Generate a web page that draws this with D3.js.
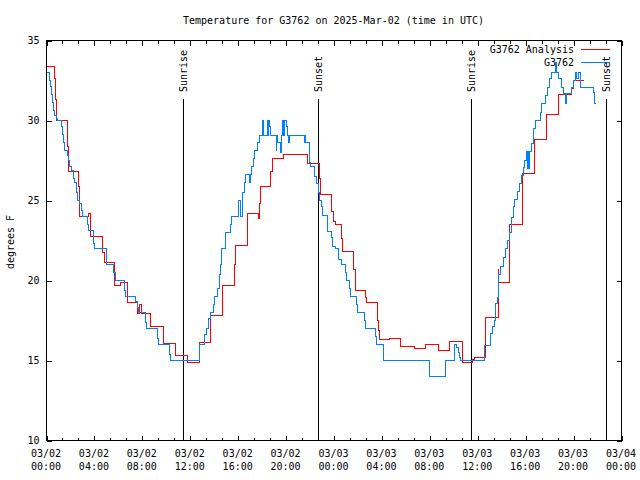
<!DOCTYPE html>
<html><head><meta charset="utf-8">
<script src="https://cdn.jsdelivr.net/npm/d3@7"></script>
<style>
body{margin:0;background:#fff}
svg{display:block}
text{font-family:"DejaVu Sans Mono",monospace;font-size:10px;fill:#000}
</style>
</head><body>
<svg id="chart" width="640" height="480"></svg>
<script>
// ---- data (hours since 2025-03-02 00:00 UTC, degrees F) ----
const titleText = "Temperature for G3762 on 2025-Mar-02 (time in UTC)";
const yLabelText = "degrees F";
const seriesNames = ["G3762 Analysis", "G3762"];
const seriesColors = ["#ff0000", "#0080ff"];
const yTickValues = [10, 15, 20, 25, 30, 35];
const xTickHours = [0, 4, 8, 12, 16, 20, 24, 28, 32, 36, 40, 44, 48];
const xTickDates = ["03/02","03/02","03/02","03/02","03/02","03/02","03/03","03/03","03/03","03/03","03/03","03/03","03/04"];
const xTickTimes = ["00:00","04:00","08:00","12:00","16:00","20:00","00:00","04:00","08:00","12:00","16:00","20:00","00:00"];
const sunLabels = ["Sunrise", "Sunset", "Sunrise", "Sunset"];
const sunHours = [11.47, 22.72, 35.5, 46.78];

const analysisSeries = [[0,33.4],[0.7,32.6],[0.75,31.3],[0.85,30.0],[1.73,28.4],[1.8,26.8],[2.7,25.9],[2.75,24.0],[3.54,24.2],[3.68,22.75],[4.71,21.75],[4.8,21.1],[5.69,19.7],[6.2,19.9],[6.75,18.6],[7.6,17.95],[7.78,18.5],[7.9,17.95],[8.7,17.1],[9.77,16.04],[10.74,15.3],[11.77,14.85],[12.8,16.1],[13.72,17.8],[14.73,19.7],[15.67,21.0],[15.8,22.2],[16.79,24.17],[17.68,23.86],[17.78,24.8],[17.85,25.9],[18.74,26.8],[18.88,27.6],[19.78,27.9],[21.81,27.3],[22.79,26.4],[22.88,25.4],[23.82,24.3],[23.96,23.7],[24.1,23.5],[24.66,22.6],[24.74,21.8],[25.66,20.7],[25.77,19.4],[26.64,18.96],[26.75,18.6],[27.62,17.5],[27.7,16.9],[27.76,16.3],[28.65,16.4],[29.57,15.87],[30.74,15.73],[31.66,16.0],[32.69,15.6],[33.67,16.2],[34.7,14.9],[35.54,15.04],[35.76,15.2],[36.65,17.67],[37.71,20.7],[37.77,19.9],[38.69,23.5],[39.72,26.7],[40.73,28.8],[41.76,30.4],[42.73,31.6],[43.85,32.0],[43.99,32.5],[44.83,32.5]];

const observedSeries = [[0,33.0],[0.25,32.5],[0.33,32.1],[0.42,31.6],[0.53,31.1],[0.61,30.6],[0.7,30.3],[0.84,30.1],[0.95,30.0],[1.23,29.6],[1.31,29.1],[1.39,28.6],[1.5,28.1],[1.73,27.8],[1.87,27.5],[1.95,27.1],[2.06,26.9],[2.23,26.4],[2.34,26.1],[2.51,25.5],[2.62,25.0],[2.79,24.8],[2.9,24.4],[2.98,24.0],[3.4,23.5],[3.54,23.1],[3.91,22.3],[4.02,22.0],[5.0,21.0],[5.63,20.5],[5.77,20.0],[6.47,19.4],[6.61,19.0],[7.45,18.7],[7.59,18.3],[7.67,18.0],[8.23,17.4],[8.34,17.0],[9.26,16.4],[9.35,16.0],[10.24,15.4],[10.38,15.0],[12.75,16.0],[13.2,16.6],[13.35,17.0],[13.55,17.6],[13.7,18.0],[13.9,18.5],[14.05,19.0],[14.25,19.5],[14.42,20.4],[14.5,21.0],[14.64,22.0],[14.98,23.0],[15.4,23.5],[15.48,24.0],[16.0,25.0],[16.23,24.0],[16.32,25.0],[16.37,25.5],[16.51,26.1],[16.65,26.6],[16.93,26.1],[17.0,26.6],[17.13,27.1],[17.3,27.6],[17.4,28.1],[17.63,28.6],[17.77,29.06],[18.05,30.0],[18.13,29.06],[18.41,30.0],[18.5,29.06],[18.55,30.0],[18.6,29.6],[18.69,29.06],[19.16,28.1],[19.22,29.06],[19.3,28.6],[19.52,28.0],[19.58,29.06],[19.72,30.0],[19.78,29.06],[19.85,30.0],[20.0,29.6],[20.14,29.06],[20.2,28.6],[20.28,29.06],[21.53,28.6],[21.58,29.06],[21.62,28.6],[21.95,27.4],[22.03,27.1],[22.37,26.5],[22.51,26.05],[22.7,25.5],[22.79,25.0],[22.93,24.6],[23.07,24.06],[23.49,23.05],[23.77,22.7],[23.9,22.1],[24.13,22.0],[24.41,21.3],[24.6,21.0],[24.96,20.5],[25.08,20.0],[25.3,19.5],[25.38,19.0],[25.86,18.5],[26.0,18.0],[26.56,17.5],[26.64,17.0],[27.45,16.5],[27.53,16.0],[28.17,15.0],[31.99,14.0],[33.3,15.0],[34.08,16.0],[34.23,15.8],[34.37,15.5],[34.5,15.2],[34.6,15.0],[36.6,15.94],[37.1,16.67],[37.21,17.1],[37.38,17.5],[37.49,18.54],[37.66,18.96],[37.77,20.4],[37.93,20.9],[38.13,21.46],[38.33,22.02],[38.49,22.5],[38.69,23.0],[38.83,23.96],[38.97,24.6],[39.1,25.04],[39.33,25.58],[39.52,26.04],[39.67,26.56],[39.81,27.04],[39.94,27.5],[40.08,28.08],[40.15,27.0],[40.2,28.08],[40.25,27.0],[40.28,28.08],[40.5,28.54],[40.64,29.48],[40.84,30.0],[41.2,30.52],[41.34,31.04],[41.67,31.56],[41.84,32.08],[42.03,32.6],[42.18,33.02],[42.45,33.6],[42.59,33.02],[42.74,32.6],[42.96,32.08],[43.16,31.67],[43.35,31.04],[43.43,31.67],[43.85,32.08],[43.99,32.5],[44.13,33.0],[44.27,32.6],[44.41,33.0],[44.55,32.08],[45.67,31.77],[45.75,31.04],[45.86,31.04]];

// ---- layout ----
const L = 46, R = 621, T = 40, B = 440;
const svg = d3.select("#chart");
const x = d3.scaleLinear().domain([0, 48]).range([L, R]);
const y = d3.scaleLinear().domain([10, 35]).range([B, T]);

const minorHours = d3.range(0, 48.001, 4/3).filter(h => !xTickHours.some(t => Math.abs(t - h) < 1e-6));

// ticks
const g = svg.append("g").attr("shape-rendering", "crispEdges");
function tickAxis(axis, tx, ty) {
  const a = g.append("g").attr("transform", `translate(${tx},${ty})`).call(axis);
  a.select(".domain").remove();
  a.selectAll("line").attr("stroke", "#000");
  return a;
}
tickAxis(d3.axisBottom(x).tickValues(xTickHours).tickSize(-5).tickFormat(""), 0.5, B + 0.5);
tickAxis(d3.axisBottom(x).tickValues(minorHours).tickSize(-3).tickFormat(""), 0.5, B + 0.5);
tickAxis(d3.axisTop(x).tickValues(xTickHours).tickSize(-5).tickFormat(""), 0.5, T + 0.5);
tickAxis(d3.axisTop(x).tickValues(minorHours).tickSize(-3).tickFormat(""), 0.5, T + 0.5);
const yl = tickAxis(d3.axisLeft(y).tickValues(yTickValues).tickSize(-5).tickPadding(7), L + 0.5, 0.5);
yl.selectAll("text").attr("font-family", "DejaVu Sans Mono, monospace").attr("font-size", 10).attr("fill", "#000").attr("dy", "0.32em");
tickAxis(d3.axisRight(y).tickValues(yTickValues).tickSize(-5).tickFormat(""), R + 0.5, 0.5);

// x tick labels (two lines)
const xl = svg.append("g");
xTickHours.forEach((h, i) => {
  const t = xl.append("text").attr("text-anchor", "middle");
  t.append("tspan").attr("x", x(h)).attr("y", 457).text(xTickDates[i]);
  t.append("tspan").attr("x", x(h)).attr("y", 470).text(xTickTimes[i]);
});

// sunrise / sunset
sunHours.forEach((h, i) => {
  const px = Math.round(x(h)) + 0.5;
  g.append("line").attr("x1", px).attr("x2", px).attr("y1", 99).attr("y2", B).attr("stroke", "#000");
  svg.append("text").attr("transform", `translate(${px + 3.5},92) rotate(-90)`).attr("text-anchor", "start").text(sunLabels[i]);
});

// series
const line = d3.line().x(d => x(d[0]) + 0.5).y(d => Math.round(y(d[1])) + 0.5).curve(d3.curveStepAfter);
[analysisSeries, observedSeries].forEach((s, i) => {
  svg.append("path").datum(s).attr("d", line).attr("fill", "none")
    .attr("stroke", seriesColors[i]).attr("stroke-width", 1).attr("shape-rendering", "crispEdges");
});

// border
g.append("rect").attr("x", L + 0.5).attr("y", T + 0.5).attr("width", R - L).attr("height", B - T)
  .attr("fill", "none").attr("stroke", "#000");

// legend
const legY = [49, 62];
seriesNames.forEach((n, i) => {
  svg.append("text").attr("x", 574).attr("y", legY[i] + 3.5).attr("text-anchor", "end").text(n);
  g.append("line").attr("x1", 581).attr("x2", 610).attr("y1", legY[i] + 0.5).attr("y2", legY[i] + 0.5)
    .attr("stroke", seriesColors[i]);
});

// title and y label
svg.append("text").attr("x", (L + R) / 2).attr("y", 23.5).attr("text-anchor", "middle").text(titleText);
svg.append("text").attr("transform", `translate(14,242) rotate(-90)`).attr("text-anchor", "middle").text(yLabelText);
</script>
</body></html>
